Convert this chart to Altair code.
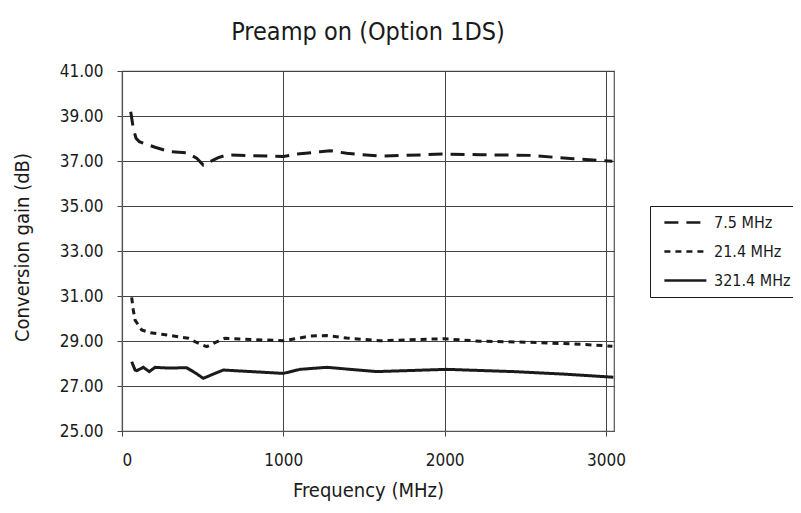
import altair as alt
import pandas as pd

FONT = "DejaVu Sans Condensed"

series_names = ["7.5 MHz", "21.4 MHz", "321.4 MHz"]

freq_75 = [54, 70, 87, 107, 132, 205, 298, 401, 463, 504, 597, 649, 1000, 1083, 1228, 1290, 1393, 1600, 1848, 1992, 2220, 2529, 2798, 3040]
gain_75 = [39.19, 38.45, 38.01, 37.86, 37.79, 37.61, 37.41, 37.37, 37.12, 36.82, 37.15, 37.27, 37.20, 37.31, 37.41, 37.46, 37.34, 37.22, 37.27, 37.31, 37.28, 37.25, 37.10, 36.99]

freq_214 = [60, 70, 81, 122, 174, 246, 349, 411, 473, 525, 577, 639, 1000, 1093, 1166, 1269, 1393, 1600, 1848, 1992, 2220, 2529, 2798, 3040]
gain_214 = [30.94, 30.38, 29.93, 29.49, 29.37, 29.30, 29.19, 29.12, 28.90, 28.75, 28.93, 29.12, 29.01, 29.12, 29.22, 29.24, 29.13, 29.01, 29.07, 29.10, 28.99, 28.94, 28.87, 28.77]

freq_3214 = [60, 81, 91, 132, 169, 205, 277, 401, 453, 504, 566, 628, 1000, 1104, 1269, 1579, 2013, 2426, 2736, 3046]
gain_3214 = [28.08, 27.71, 27.68, 27.83, 27.64, 27.83, 27.80, 27.81, 27.59, 27.34, 27.53, 27.71, 27.56, 27.74, 27.83, 27.64, 27.74, 27.64, 27.53, 27.39]

x_ticks = [0, 1000, 2000, 3000]
y_ticks = [25, 27, 29, 31, 33, 35, 37, 39, 41]

rows = []
for name, fs, gs in [(series_names[0], freq_75, gain_75),
                     (series_names[1], freq_214, gain_214),
                     (series_names[2], freq_3214, gain_3214)]:
    for i, (f, g) in enumerate(zip(fs, gs)):
        rows.append({"series": name, "freq": f, "gain": g, "order": i})
df = pd.DataFrame(rows)

chart = alt.Chart(df).mark_line(color="#1a1a1a", strokeWidth=3, strokeJoin="miter").encode(
    x=alt.X("freq:Q", scale=alt.Scale(domain=[0, 3050], nice=False, zero=False),
            axis=alt.Axis(values=x_ticks, title="Frequency (MHz)", format="d",
                          titleX=246, titleY=59, titleAnchor="middle", titleBaseline="middle",
                          labelPadding=16)),
    y=alt.Y("gain:Q", scale=alt.Scale(domain=[25, 41], nice=False, zero=False),
            axis=alt.Axis(values=y_ticks, title="Conversion gain (dB)", format=".2f",
                          titleX=-100, titleY=176, titleAngle=-90, titleAlign="center",
                          titleBaseline="middle", labelPadding=14)),
    strokeDash=alt.StrokeDash("series:N",
                              scale=alt.Scale(domain=series_names, range=[[14, 8], [6, 5], [1, 0]]),
                              legend=alt.Legend(title=None, orient="none", legendX=528, legendY=135,
                                                strokeColor="#1a1a1a", padding=8,
                                                symbolType="M-0.3,0H5.7", symbolSize=196,
                                                symbolStrokeWidth=2.5, symbolStrokeColor="#1a1a1a",
                                                symbolFillColor="transparent",
                                                labelFontSize=16, labelFont=FONT, labelColor="#1a1a1a",
                                                labelOffset=39, rowPadding=12)),
    detail="series:N",
    order="order:Q",
).properties(
    width=492,
    height=360,
    title=alt.TitleParams("Preamp on (Option 1DS)", font=FONT, fontSize=25, fontWeight="normal",
                          color="#1a1a1a", anchor="middle", offset=17),
    autosize=alt.AutoSizeParams(type="none"),
    padding={"left": 114, "top": 63, "right": 179, "bottom": 73},
).configure_view(
    stroke="#555555", strokeWidth=1.2
).configure_axis(
    grid=True, gridColor="#444444", gridWidth=1, gridOpacity=1,
    domainColor="#555555", domainWidth=1.2,
    tickColor="#444444", tickSize=5,
    labelFont=FONT, labelFontSize=17, labelColor="#1a1a1a",
    titleFont=FONT, titleFontSize=20, titleFontWeight="normal", titleColor="#1a1a1a",
)

chart.save("out.html", embed_options={"renderer": "svg", "actions": False})
